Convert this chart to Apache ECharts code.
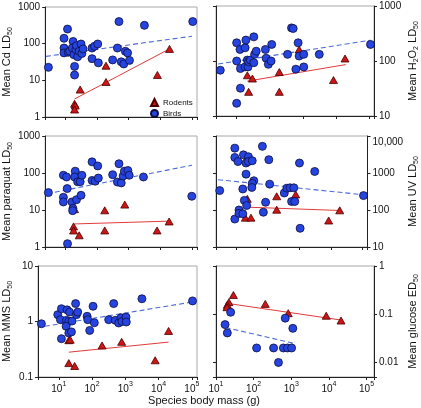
<!DOCTYPE html>
<html><head><meta charset="utf-8">
<script src="https://cdn.jsdelivr.net/npm/echarts@6/dist/echarts.min.js"></script>
<style>html,body{margin:0;padding:0;background:#fff}#c{width:421px;height:408px}</style>
</head><body><div id="c"></div>
<script>
// ---------- DATA (body mass g, value) ----------
const cdBirds = [[3.0,22.6],[12,250],[9.3,140],[9.3,76],[9.3,56],[12.6,58],[18,115],[14,62],[17,76],[19,50],[22,69],[23,88],[25,44],[28,62],[32,98],[34,54],[37,72],[20,24],[20,14],[71,76],[85,85],[107,98],[71,39],[112,30],[500,400],[447,76],[316,36],[589,32],[708,28],[794,62],[933,56],[1070,35],[3160,316],[105000,400]];
const cdRodents = [[20,2.3],[21,2.05],[20,1.6],[30,5.6],[195,25],[195,9],[8100,14],[19500,72]];
const cdBirdFit = [[2.5,45],[100000,160]];
const cdRodentFit = [[20,3.1],[19500,72]];

const h2o2Birds = [[3.2,68],[10,214],[10,100],[12.6,162],[13,73],[13,32],[10,17],[18,174],[19,240],[18,78],[21,104],[22,78],[23,97],[26,104],[33,275],[33,93],[35,132],[39,151],[74,162],[78,112],[91,87],[110,100],[115,200],[347,132],[457,400],[513,390],[617,71],[724,214],[776,123],[1070,132],[1070,78],[3160,132],[112000,200]];
const h2o2Rodents = [[21,55],[30,48],[23,27.5],[195,63],[195,27.5],[776,162],[8500,45],[19000,111]];
const h2o2BirdFit = [[2.75,88],[112000,239]];
const h2o2RodentFit = [[21,43],[20000,86]];

const paraquatBirds = [[3.0,29.5],[8.9,87],[11.2,78],[11.7,38],[8.9,22],[8.9,16.5],[16.6,16.5],[17.8,11],[17.4,9.6],[23,19],[32,25],[21,112],[20,78],[25,58],[30,58],[34,87],[12,1.23],[71,200],[107,155],[71,63],[89,60],[112,73],[316,90],[500,178],[447,57],[589,54],[676,83],[741,112],[955,117],[1050,87],[2950,78],[98000,23.5]];
const paraquatRodents = [[18.6,3.6],[18.6,2.8],[20,10.5],[28,2.07],[178,9.8],[178,2.8],[760,14],[7900,2.8],[19000,4.9]];
const paraquatBirdFit = [[2.7,27.5],[100000,162]];
const paraquatRodentFit = [[20,4.2],[19000,5.0]];

const uvBirds = [[3.1,335],[9.3,4700],[9.3,2630],[11.7,2040],[17.4,3090],[25,2750],[21,1860],[25,2040],[33,2140],[21,930],[37,617],[33,525],[32,407],[16.6,370],[69,5250],[110,2290],[117,500],[18.6,182],[22,132],[12.6,100],[9.3,57],[12.6,81],[16.6,79],[74,87],[87,162],[339,288],[407,389],[513,398],[676,398],[575,170],[724,170],[1020,1860],[1070,32],[3090,1100],[107000,245]];
const uvRodents = [[23,200],[20,62],[30,62],[195,235],[195,102],[776,263],[8500,52],[19000,98]];
const uvBirdFit = [[2.75,660],[112000,257]];
const uvRodentFit = [[25,119],[19000,97]];

const mmsBirds = [[3.0,0.91],[9.3,1.33],[12,1.7],[11.2,1.08],[12,0.49],[17,1.05],[17.8,1.62],[21,1.48],[20,1.0],[16.6,0.82],[20,0.62],[24,0.65],[25,1.02],[32,2.1],[34,1.33],[37,1.48],[71,1.24],[74,1.08],[107,1.88],[117,0.95],[85,0.69],[316,1.08],[447,2.1],[500,1.05],[631,0.94],[741,1.17],[794,1.0],[1050,1.2],[1070,0.98],[3160,2.57],[105000,2.35]];
const mmsRodents = [[20,0.46],[22,0.47],[20,0.178],[30,0.158],[200,0.37],[776,0.43],[7900,0.2],[20000,0.675]];
const mmsBirdFit = [[3.8,0.82],[100000,2.24]];
const mmsRodentFit = [[20,0.28],[20000,0.425]];

const glucoseBirds = [[17.4,0.061],[24.5,0.11],[20,0.041],[120,0.02],[339,0.02],[617,0.02],[794,0.02],[1020,0.02],[457,0.01],[692,0.083],[1100,0.051]];
const glucoseRodents = [[29,0.25],[22,0.178],[20,0.157],[19.5,0.14],[204,0.164],[832,0.105],[8500,0.093],[21000,0.074]];
const glucoseBirdFit = [[18,0.053],[1150,0.025]];
const glucoseRodentFit = [[18,0.17],[20500,0.076]];

// ---------- TICK LABELS ----------
const xTickValues = [10,100,1000,10000,100000];
const xTickPowers = ['1','2','3','4','5'];
const cdTickValues = [1,10,100,1000];        const cdTickLabels = ['1','10','100','1000'];
const h2o2TickValues = [10,100,1000];        const h2o2TickLabels = ['10','100','1000'];
const paraquatTickValues = [1,10,100,1000];  const paraquatTickLabels = ['1','10','100','1000'];
const uvTickValues = [10,100,1000,10000];    const uvTickLabels = ['10','100','1000','10,000'];
const mmsTickValues = [0.1,1,10];            const mmsTickLabels = ['0.1','1','10'];
const glucoseTickValues = [0.01,0.1,1];      const glucoseTickLabels = ['0.01','0.1','1'];

const legendNames = ['Rodents','Birds'];
const xTitle = 'Species body mass (g)';
const cdTitle = '{n|Mean Cd LD}{s|50}';
const h2o2Title = '{n|Mean H}{s|2}{n|O}{s|2}{n| LD}{s|50}';
const paraquatTitle = '{n|Mean paraquat LD}{s|50}';
const uvTitle = '{n|Mean UV LD}{s|50}';
const mmsTitle = '{n|Mean MMS LD}{s|50}';
const glucoseTitle = '{n|Mean glucose ED}{s|50}';

// ---------- BUILD ----------
const FONT = 'Liberation Sans, Arial, Helvetica, sans-serif';
const TXT = '#111';
const AXC = '#222';
const BIRD = '#2645e0', BIRD_EDGE = '#0c0c3c', BIRD_LINE = '#4a6ad8';
const ROD = '#cc1515', ROD_EDGE = '#4a0000', ROD_LINE = '#e03a3a';

const panels = [
  {b:cdBirds, r:cdRodents, bf:cdBirdFit, rf:cdRodentFit, ymin:1, ymax:1000, tv:cdTickValues, tl:cdTickLabels, title:cdTitle, side:'left', left:38, top:7, w:159, h:110, xmin:2.37, xmax:143000, xlab:false, topShift:false},
  {b:h2o2Birds, r:h2o2Rodents, bf:h2o2BirdFit, rf:h2o2RodentFit, ymin:10, ymax:1000, tv:h2o2TickValues, tl:h2o2TickLabels, title:h2o2Title, side:'right', left:216, top:6, w:160, h:110, xmin:2.37, xmax:143000, xlab:false, topShift:false},
  {b:paraquatBirds, r:paraquatRodents, bf:paraquatBirdFit, rf:paraquatRodentFit, ymin:1, ymax:1000, tv:paraquatTickValues, tl:paraquatTickLabels, title:paraquatTitle, side:'left', left:38, top:136, w:159, h:111, xmin:2.37, xmax:143000, xlab:false, topShift:false},
  {b:uvBirds, r:uvRodents, bf:uvBirdFit, rf:uvRodentFit, ymin:10, ymax:10000, tv:uvTickValues, tl:uvTickLabels, title:uvTitle, side:'right', left:216, top:136, w:160, h:111, xmin:2.37, xmax:143000, xlab:false, topShift:true},
  {b:mmsBirds, r:mmsRodents, bf:mmsBirdFit, rf:mmsRodentFit, ymin:0.1, ymax:10, tv:mmsTickValues, tl:mmsTickLabels, title:mmsTitle, side:'left', left:38, top:266, w:159, h:111, xmin:2.37, xmax:143000, xlab:true, topShift:false},
  {b:glucoseBirds, r:glucoseRodents, bf:glucoseBirdFit, rf:glucoseRodentFit, ymin:0.005, ymax:1, tv:glucoseTickValues, tl:glucoseTickLabels, title:glucoseTitle, side:'right', left:216, top:266, w:160, h:111, xmin:10, xmax:158000, xlab:true, topShift:false}
];

function findTick(v, vals){
  for (let i=0;i<vals.length;i++){ if (Math.abs(Math.log10(v)-Math.log10(vals[i]))<1e-6) return i; }
  return -1;
}
const nameRich = {
  n:{fontSize:11, lineHeight:13, verticalAlign:'top', color:TXT, fontFamily:FONT},
  s:{fontSize:7, lineHeight:13, verticalAlign:'bottom', color:TXT, fontFamily:FONT}
};
const grids=[], xAxes=[], yAxes=[], series=[];
panels.forEach((p,i)=>{
  grids.push({left:p.left, top:p.top, width:p.w, height:p.h, show:true, borderColor:'#a8a8a8', borderWidth:1, backgroundColor:'transparent', containLabel:false});
  xAxes.push({type:'log', logBase:10, gridIndex:i, min:p.xmin, max:p.xmax,
    axisLine:{show:true, lineStyle:{color:AXC, width:1}},
    axisTick:{show:true, inside:false, length:3, lineStyle:{color:AXC}},
    splitLine:{show:false}, minorTick:{show:false},
    axisLabel:{show:p.xlab, margin:4, color:TXT, fontFamily:FONT, showMinLabel:true, showMaxLabel:true,
      formatter:(v)=>{const k=findTick(v,xTickValues); return k<0?'':'{b|10}{p|'+xTickPowers[k]+'}';},
      rich:{b:{fontSize:10, lineHeight:13, verticalAlign:'bottom', color:TXT, fontFamily:FONT},
            p:{fontSize:7, lineHeight:13, verticalAlign:'top', color:TXT, fontFamily:FONT}}}
  });
  const yi = yAxes.length;
  yAxes.push({type:'log', logBase:10, gridIndex:i, min:p.ymin, max:p.ymax, position:p.side,
    axisLine:{show:true, onZero:false, lineStyle:{color:AXC, width:1}},
    axisTick:{show:true, inside:false, length:3, lineStyle:{color:AXC}},
    splitLine:{show:false}, minorTick:{show:false},
    axisLabel:{margin:5, fontSize:10, color:TXT, fontFamily:FONT, showMinLabel:true, showMaxLabel:true,
      formatter:(v)=>{const k=findTick(v,p.tv); if(k<0) return ''; return (p.topShift && k===p.tv.length-1)?'{t|'+p.tl[k]+'}':p.tl[k];},
      rich:{t:{fontSize:10, color:TXT, fontFamily:FONT, padding:[12,0,0,0]}}},
    name:p.title, nameLocation:'middle', nameRotate:90, nameGap:(p.side==='left'?24:33),
    nameTextStyle:{rich:nameRich}
  });
  if (p.side==='right'){
    yAxes.push({type:'log', logBase:10, gridIndex:i, min:p.ymin, max:p.ymax, position:'left',
      axisLine:{show:true, onZero:false, lineStyle:{color:AXC, width:1}},
      axisTick:{show:true, inside:false, length:3, lineStyle:{color:AXC}},
      splitLine:{show:false}, axisLabel:{show:false}});
  }
  series.push({type:'line', name:'Rodent fit', xAxisIndex:i, yAxisIndex:yi, data:p.rf, showSymbol:false, symbol:'none', z:1, silent:true,
    lineStyle:{color:ROD_LINE, width:1, type:'solid'}});
  series.push({type:'line', name:'Bird fit', xAxisIndex:i, yAxisIndex:yi, data:p.bf, showSymbol:false, symbol:'none', z:1, silent:true,
    lineStyle:{color:BIRD_LINE, width:1.1, type:[5,3]}});
  series.push({type:'scatter', name:legendNames[0], xAxisIndex:i, yAxisIndex:yi, data:p.r, symbol:'triangle', symbolSize:[8,7], z:3,
    itemStyle:{color:ROD, borderColor:ROD_EDGE, borderWidth:0.8, opacity:1}});
  series.push({type:'scatter', name:legendNames[1], xAxisIndex:i, yAxisIndex:yi, data:p.b, symbol:'circle', symbolSize:8, z:4,
    itemStyle:{color:BIRD, borderColor:BIRD_EDGE, borderWidth:0.8, opacity:1}});
});

const chart = echarts.init(document.getElementById('c'), null, {renderer:'canvas'});
chart.setOption({
  animation:false,
  textStyle:{fontFamily:FONT},
  grid:grids, xAxis:xAxes, yAxis:yAxes, series:series,
  legend:{orient:'vertical', left:150, top:98, itemWidth:7, itemHeight:7, itemGap:2, padding:0,
    textStyle:{fontSize:8, color:TXT, fontFamily:FONT},
    data:[{name:legendNames[0], icon:'triangle'},{name:legendNames[1], icon:'circle'}]},
  graphic:[{type:'text', x:204, y:401, style:{text:xTitle, fontSize:11, fill:TXT, fontFamily:FONT, align:'center', verticalAlign:'middle', textAlign:'center', textVerticalAlign:'middle'}}]
});
</script></body></html>
